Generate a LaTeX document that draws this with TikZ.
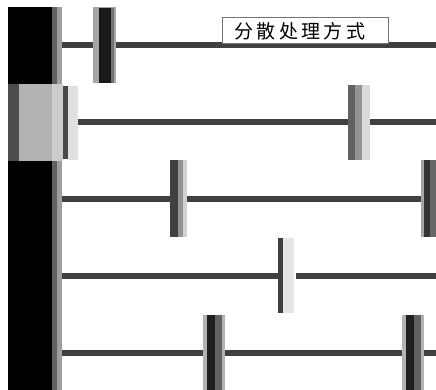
\documentclass[tikz,border=0pt]{standalone}
\usepackage{fontspec}
\newfontfamily\cjk{Noto Sans CJK SC}
\definecolor{linegray}{HTML}{404040}
\begin{document}
\begin{tikzpicture}[x=1pt,y=-1pt]
\tikzset{hline/.style={line width=6pt,draw=linegray}}
\useasboundingbox (0,0) rectangle (436,390);
\fill[white] (0,0) rectangle (436,390);
% horizontal lines
\draw[hline] (62,45) -- (436,45);
\draw[hline] (78,122) -- (436,122);
\draw[hline] (62,199) -- (436,199);
\draw[hline] (62,276) -- (278,276);
\draw[hline] (296,276) -- (436,276);
\draw[hline] (62,353) -- (436,353);
% left strip
\fill[black] (8,7) rectangle (52,390);
\fill[black!62] (52,7) rectangle (57,390);
\fill[black!38] (57,7) rectangle (62,390);
% highlighted box
\fill[black!70] (8,84) rectangle (19,161);
\fill[black!30] (19,84) rectangle (52,161);
\fill[black!20] (52,84) rectangle (63,161);
\fill[black!12] (68,86) rectangle (78,160);
\fill[black!72] (63,86) rectangle (68,159);
% bar line 1
\fill[black!35] (93,7) rectangle (116,83);
\fill[black!90] (99,8) rectangle (111,83);
\fill[black!55] (111,8) rectangle (114,83);
% bar line 2 right
\fill[black!62] (348,85) rectangle (355,160);
\fill[black!42] (355,85) rectangle (362,160);
\fill[black!15] (362,85) rectangle (370,160);
% bar line 3
\fill[black!75] (170,160) rectangle (178,237);
\fill[black!42] (178,160) rectangle (183,237);
\fill[black!18] (183,160) rectangle (187,237);
\fill[black!35] (421,160) rectangle (424,237);
\fill[black!80] (424,160) rectangle (430,237);
\fill[black!60] (430,160) rectangle (436,237);
% bar line 4
\fill[black!10] (283,238) rectangle (294,313);
\fill[black!75] (278,238) rectangle (283,313);
% bar line 5
\foreach \bx in {203,402}{
  \fill[black!30] (\bx,315) rectangle (\bx+22,390);
  \fill[black!88] (\bx+4,315) rectangle (\bx+12,390);
  \fill[black!62] (\bx+12,315) rectangle (\bx+19,390);
}
% label
\node[draw=black!55, fill=white, line width=1pt, minimum width=166pt, minimum height=26pt, inner sep=0pt]
  (lab) at (305,31) {};
\node[anchor=west, inner sep=0pt] (labtext) at (234,31)
  {\cjk\fontsize{19}{20}\selectfont\addfontfeature{LetterSpace=18}分散处理方式};
\end{tikzpicture}
\end{document}
